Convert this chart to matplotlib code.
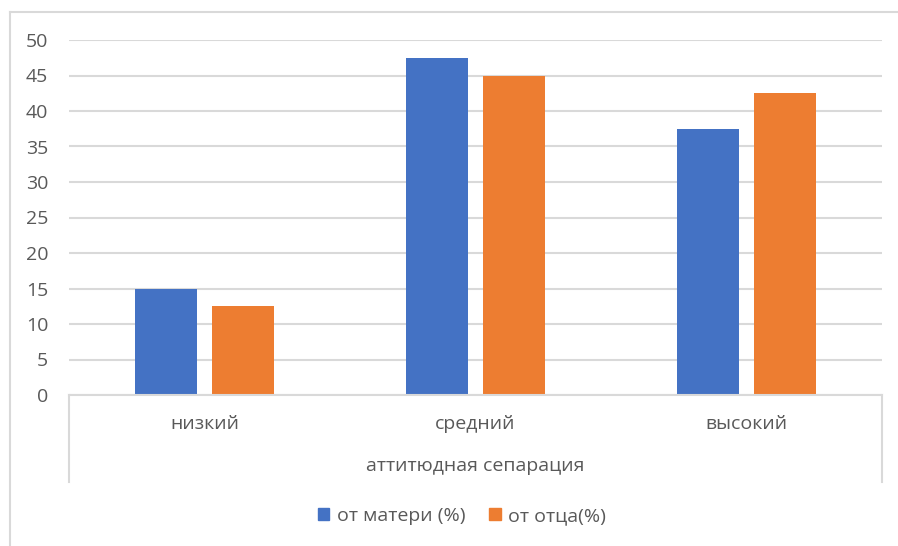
import matplotlib.pyplot as plt
import matplotlib.transforms as mtransforms
from matplotlib.lines import Line2D
from matplotlib.patches import Patch
import numpy as np

# Данные
categories = ['низкий', 'средний', 'высокий']
mother = [15, 47.5, 37.5]
father = [12.5, 45, 42.5]
group_title = 'аттитюдная сепарация'
series_names = ['от матери (%)', 'от отца(%)']

blue = '#4472C4'
orange = '#ED7D31'
grid_c = '#D9D9D9'
text_c = '#595959'
fs = 14

plt.rcParams['font.family'] = ['Open Sans', 'DejaVu Sans']

W, H = 898, 546
fig = plt.figure(figsize=(W / 100, H / 100), dpi=100)

def fx(px):
    return px / W

def fy(py):
    return 1 - py / H

x0, x1 = 69, 882
y_top, y_bot = 40, 395
ax = fig.add_axes([fx(x0), fy(y_bot), fx(x1) - fx(x0), fy(y_top) - fy(y_bot)])

x = np.arange(len(categories))
w = 0.229
off = 0.141
ax.bar(x - off, mother, w, color=blue, zorder=3)
ax.bar(x + off, father, w, color=orange, zorder=3)

ax.set_xlim(-0.5, len(categories) - 0.5)
ax.set_ylim(0, 50)
ax.set_yticks(np.arange(0, 51, 5))
ax.yaxis.grid(True, color=grid_c, linewidth=1.5, zorder=0)
ax.tick_params(axis='y', length=0, pad=15, labelsize=fs, labelcolor=text_c)
ax.set_xticks([])
for s in ['top', 'right', 'left']:
    ax.spines[s].set_visible(False)
ax.spines['bottom'].set_color(grid_c)
ax.spines['bottom'].set_linewidth(1.5)
ax.spines['bottom'].set_zorder(4)

# Подписи категорий и общей группы
tr = mtransforms.blended_transform_factory(ax.transData, fig.transFigure)
for xi, c in zip(x, categories):
    ax.text(xi, fy(424), c, transform=tr, ha='center', va='center',
            fontsize=fs, color=text_c)
fig.text((fx(x0) + fx(x1)) / 2, fy(466), group_title, ha='center', va='center',
         fontsize=fs, color=text_c)

# Рамки групповой оси
for px in (x0, x1):
    fig.add_artist(Line2D([fx(px), fx(px)], [fy(y_bot), fy(482)], color=grid_c, linewidth=1.5))

# Рамка области диаграммы
fig.add_artist(Line2D([fx(10), fx(10)], [fy(12), 0], color=grid_c, linewidth=1.5))
fig.add_artist(Line2D([fx(10), 1], [fy(12), fy(12)], color=grid_c, linewidth=1.5))

handles = [Patch(color=blue), Patch(color=orange)]
fig.legend(handles, series_names, loc='center', bbox_to_anchor=(fx(462), fy(516)),
           ncol=2, frameon=False, fontsize=fs, handlelength=0.6, handleheight=0.6,
           handletextpad=0.4, columnspacing=1.2, labelcolor=text_c)

fig.savefig('out.png', dpi=100)
